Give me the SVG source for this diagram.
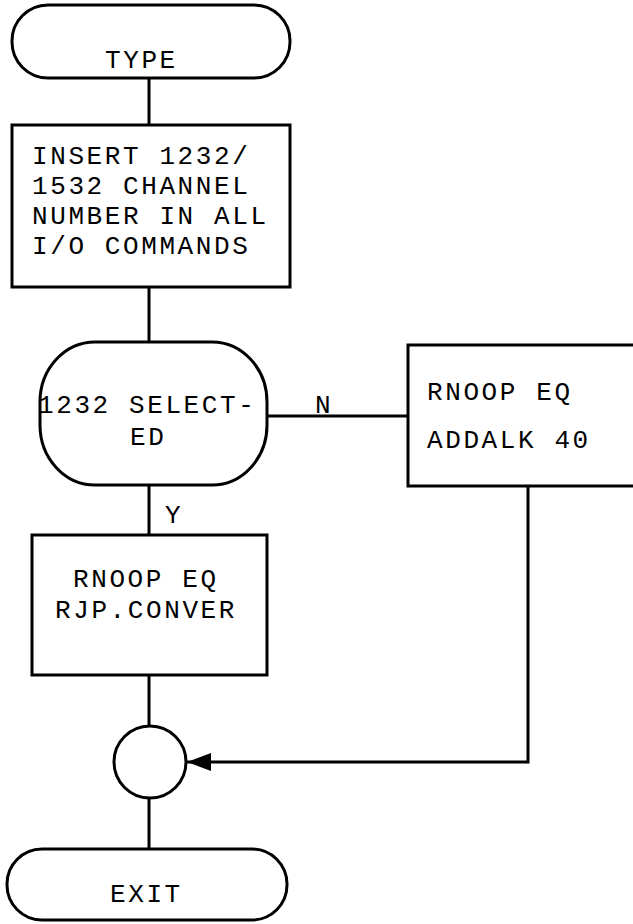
<svg xmlns="http://www.w3.org/2000/svg" width="633" height="924" viewBox="0 0 633 924">
<style>
.s{fill:#fff;stroke:#000;stroke-width:3}
.l{fill:none;stroke:#000;stroke-width:3}
.t{font-family:"Liberation Mono","DejaVu Sans Mono",monospace;font-size:26px;letter-spacing:2.6px;fill:#000}
</style>
<defs>
<marker id="ah" markerWidth="24" markerHeight="18" refX="24" refY="9" orient="auto" markerUnits="userSpaceOnUse">
<path d="M0,0 L24,9 L0,18 Z" fill="#000"/>
</marker>
</defs>
<rect width="633" height="924" fill="#fff"/>
<g id="connectors">
<line class="l" x1="149" y1="78" x2="149" y2="125"/>
<line class="l" x1="149" y1="287" x2="149" y2="342"/>
<line class="l" x1="267" y1="416" x2="408" y2="416"/>
<line class="l" x1="149" y1="485" x2="149" y2="535"/>
<line class="l" x1="149" y1="675" x2="149" y2="726"/>
<polyline class="l" points="528,486 528,762 187,762" marker-end="url(#ah)"/>
<line class="l" x1="149" y1="799" x2="149" y2="849"/>
<text class="t" x="315" y="413">N</text>
<text class="t" x="165" y="523">Y</text>
</g>
<g id="type">
<rect class="s" x="12" y="5" width="278" height="73" rx="36" ry="36"/>
<text class="t" x="105" y="68">TYPE</text>
</g>
<g id="insert">
<rect class="s" x="12" y="125" width="278" height="162"/>
<text class="t" x="32" y="164">INSERT 1232/</text>
<text class="t" x="32" y="194">1532 CHANNEL</text>
<text class="t" x="32" y="224">NUMBER IN ALL</text>
<text class="t" x="32" y="254">I/O COMMANDS</text>
</g>
<g id="decision">
<rect class="s" x="40" y="342" width="227" height="143" rx="55" ry="60"/>
<text class="t" x="38" y="413">1232 SELECT-</text>
<text class="t" x="130" y="445">ED</text>
</g>
<g id="addalk">
<rect class="s" x="408" y="345" width="240" height="141"/>
<text class="t" x="427" y="400">RNOOP EQ</text>
<text class="t" x="427" y="448">ADDALK 40</text>
</g>
<g id="conver">
<rect class="s" x="32" y="535" width="235" height="140"/>
<text class="t" x="73" y="587">RNOOP EQ</text>
<text class="t" x="55" y="618">RJP.CONVER</text>
</g>
<g id="join">
<circle class="s" cx="150" cy="762" r="36"/>
</g>
<g id="exit">
<rect class="s" x="7" y="849" width="280" height="71" rx="35" ry="35"/>
<text class="t" x="110" y="902">EXIT</text>
</g>
</svg>
